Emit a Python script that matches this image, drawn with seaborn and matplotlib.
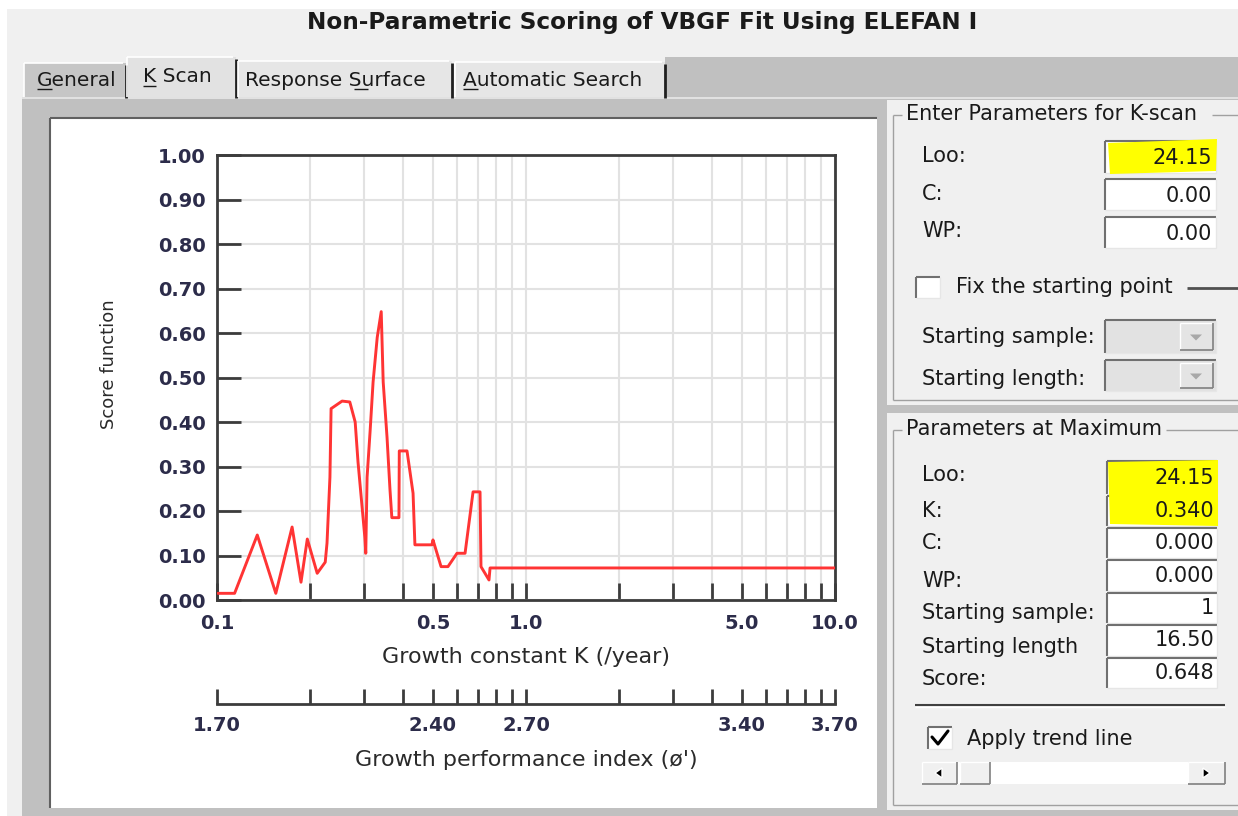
import matplotlib
matplotlib.use("Agg")
import matplotlib.pyplot as plt
from matplotlib.patches import Rectangle, Polygon
from matplotlib.ticker import NullLocator
import seaborn as sns
import pandas as pd

# K-scan curve (K in /year, score function)
k_values = [0.1007, 0.114, 0.135, 0.155, 0.175, 0.187, 0.196, 0.211, 0.224, 0.227,
            0.232, 0.234, 0.254, 0.269, 0.280, 0.286, 0.301, 0.303, 0.306, 0.313,
            0.320, 0.330, 0.340, 0.345, 0.355, 0.363, 0.368, 0.388, 0.389, 0.412,
            0.431, 0.437, 0.496, 0.500, 0.531, 0.559, 0.598, 0.635, 0.674, 0.710,
            0.715, 0.759, 0.765, 10.0]
scores = [0.015, 0.015, 0.146, 0.015, 0.164, 0.040, 0.137, 0.060, 0.085, 0.128,
          0.276, 0.430, 0.447, 0.445, 0.400, 0.310, 0.140, 0.105, 0.276, 0.380,
          0.490, 0.590, 0.648, 0.490, 0.366, 0.247, 0.185, 0.185, 0.335, 0.335,
          0.240, 0.124, 0.124, 0.135, 0.075, 0.075, 0.105, 0.105, 0.243, 0.243,
          0.075, 0.045, 0.072, 0.072]

k_ticks = [0.1, 0.2, 0.3, 0.4, 0.5, 0.6, 0.7, 0.8, 0.9, 1, 2, 3, 4, 5, 6, 7, 8, 9, 10]
k_labels = {0.1: "0.1", 0.5: "0.5", 1: "1.0", 5: "5.0", 10: "10.0"}
phi_labels = {0.1: "1.70", 0.5: "2.40", 1: "2.70", 5: "3.40", 10: "3.70"}
score_ticks = [0.0, 0.1, 0.2, 0.3, 0.4, 0.5, 0.6, 0.7, 0.8, 0.9, 1.0]

# dialog fields
scan_labels = ["Loo:", "C:", "WP:"]
scan_values = ["24.15", "0.00", "0.00"]
max_labels = ["Loo:", "K:", "C:", "WP:", "Starting sample:", "Starting length", "Score:"]
max_values = ["24.15", "0.340", "0.000", "0.000", "1", "16.50", "0.648"]
tabs = ["General", "K Scan", "Response Surface", "Automatic Search"]

W, H = 1238, 816
sns.set_style("white")
plt.rcParams["font.family"] = ["DejaVu Sans"]

fig = plt.figure(figsize=(W / 100, H / 100), dpi=100, facecolor="#f0f0f0")
bg = fig.add_axes([0, 0, 1, 1])
bg.set_xlim(0, W)
bg.set_ylim(H, 0)
bg.axis("off")

TXT = "#1a1a1a"


def box(x0, y0, x1, y1, fc, z=1):
    bg.add_patch(Rectangle((x0, y0), x1 - x0, y1 - y0, facecolor=fc,
                           edgecolor="none", zorder=z))


def hline(x0, x1, y, c, lw=1.5, z=2):
    bg.plot([x0, x1], [y, y], color=c, lw=lw, zorder=z, solid_capstyle="butt")


def vline(x, y0, y1, c, lw=1.5, z=2):
    bg.plot([x, x], [y0, y1], color=c, lw=lw, zorder=z, solid_capstyle="butt")


def sunken(x0, y0, x1, y1, fc="white", z=2):
    box(x0, y0, x1, y1, fc, z)
    hline(x0, x1, y0, "#707070", 1.5, z + 0.1)
    vline(x0, y0, y1, "#707070", 1.5, z + 0.1)
    hline(x0, x1, y1, "#e6e6e6", 1, z + 0.1)
    vline(x1, y0, y1, "#e6e6e6", 1, z + 0.1)


def raised(x0, y0, x1, y1, fc="#f0f0f0", z=3):
    box(x0, y0, x1, y1, fc, z)
    hline(x0, x1, y0, "white", 1, z + 0.1)
    vline(x0, y0, y1, "white", 1, z + 0.1)
    hline(x0, x1, y1, "#808080", 1.2, z + 0.1)
    vline(x1, y0, y1, "#808080", 1.2, z + 0.1)


def label(x, y, s, size=15, ha="left", weight="normal", c=TXT, z=5):
    bg.text(x, y, s, ha=ha, va="center", fontsize=size, color=c,
            fontweight=weight, zorder=z)


# window frame
box(0, 0, W, 9, "white")
box(0, 0, 7, H, "white")
label(642, 23, "Non-Parametric Scoring of VBGF Fit Using ELEFAN I", size=16.7,
      ha="center", weight="bold")

# tab strip and page
box(665, 57, W, 97, "#c0c0c0")
box(22, 97, W, H, "#c0c0c0")
hline(22, W, 98, "#e8e8e8", 1.2)
tab_geo = [(24, 126, 63, "#c6c6c6"), (127, 236, 57, "#e2e2e2"),
           (238, 452, 61, "#e6e6e6"), (455, 665, 62, "#e6e6e6")]
tab_text = [(37, 80), (143, 77), (245, 80), (463, 80)]
tab_under = [(37, 52), (143, 156), (354, 368), (463, 478)]
for name, (x0, x1, y0, fc), (tx, ty), (u0, u1) in zip(tabs, tab_geo, tab_text, tab_under):
    box(x0, y0, x1, 97, fc, 1.5)
    hline(x0, x1 - 3, y0, "white", 1.2, 2)
    vline(x0, y0, 97, "white", 1.2, 2)
    vline(x1, y0 + 2, 98, "#202020", 2, 2)
    label(tx, ty, name, size=14.5)
    hline(u0, u1, ty + 9, TXT, 1, 6)

# white plot panel
box(50, 118, 877, 808, "white")
hline(50, 877, 118, "#606060", 1.5)
vline(50, 118, 808, "#606060", 1.5)

# right-hand group boxes
box(887, 100, W, 405, "#f0f0f0")
box(887, 413, W, 810, "#f0f0f0")


def group(y0, y1, title, tx1):
    hline(893, 902, y0, "#a0a0a0", 1)
    hline(tx1, W, y0, "#a0a0a0", 1)
    vline(893, y0, y1, "#a0a0a0", 1)
    hline(893, W, y1, "#a0a0a0", 1)
    label(906, y0 - 1, title)


group(115, 400, "Enter Parameters for K-scan", 1212)
group(430, 805, "Parameters at Maximum", 1166)

# K-scan inputs
scan_rows = [(156, 141, 173), (194, 179, 210), (231, 217, 248)]
for name, val, (ly, fy0, fy1) in zip(scan_labels, scan_values, scan_rows):
    label(922, ly, name)
    sunken(1105, fy0, 1216, fy1)
    label(1212, (fy0 + fy1) / 2 + 1, val, ha="right")
bg.add_patch(Polygon([(1108, 143), (1217, 139), (1216, 171), (1110, 174)],
                     facecolor="#ffff00", edgecolor="none", zorder=3))

sunken(916, 277, 940, 298)
label(956, 287, "Fix the starting point")
hline(1187, W, 288, "#505050", 2)

for name, (ly, fy0, fy1) in zip(["Starting sample:", "Starting length:"],
                                [(337, 320, 353), (379, 360, 391)]):
    label(922, ly, name)
    sunken(1105, fy0, 1216, fy1, "#e2e2e2")
    raised(1180, fy0 + 3, 1213, fy1 - 3, "#e4e4e4")
    bg.add_patch(Polygon([(1190, (fy0 + fy1) / 2 - 2), (1202, (fy0 + fy1) / 2 - 2),
                          (1196, (fy0 + fy1) / 2 + 4)],
                         facecolor="#a8a8a8", edgecolor="none", zorder=4))

# parameters at maximum
max_rows = [(475, 461, 494), (511, 496, 526), (543, 528, 558), (581, 560, 591),
            (613, 593, 623), (647, 625, 656), (679, 658, 688)]
for name, val, (ly, fy0, fy1) in zip(max_labels, max_values, max_rows):
    label(922, ly, name)
    sunken(1107, fy0, 1217, fy1)
    label(1214, (fy0 + fy1) / 2, val, ha="right")
bg.add_patch(Polygon([(1108, 462), (1218, 460), (1218, 526), (1110, 524)],
                     facecolor="#ffff00", edgecolor="none", zorder=3))

hline(915, 1225, 705, "#404040", 1.5)
hline(915, 1225, 707, "white", 1)
sunken(928, 727, 952, 749)
bg.plot([932, 938, 948], [737, 744, 731], color="black", lw=2.2, zorder=5)
label(967, 739, "Apply trend line")

# scrollbar
box(922, 762, 1225, 784, "white", 2)
raised(922, 762, 957, 784)
raised(960, 762, 990, 784)
raised(1188, 762, 1225, 784)
bg.add_patch(Polygon([(935, 773), (942, 768), (942, 778)], facecolor="black", zorder=5))
bg.add_patch(Polygon([(1210, 773), (1203, 768), (1203, 778)], facecolor="black", zorder=5))

# ---- score plot ----
ax = fig.add_axes([217 / W, 1 - 600 / H, 618 / W, 445 / H])
df = pd.DataFrame({"K": k_values, "score": scores})
sns.lineplot(data=df, x="K", y="score", sort=False, estimator=None,
             color="#ff3434", lw=2.1, ax=ax, zorder=3)
ax.set_xscale("log")
ax.set_xlim(0.1, 10)
ax.set_ylim(0, 1)
ax.set_xticks(k_ticks)
ax.set_xticklabels([k_labels.get(k, "") for k in k_ticks])
ax.xaxis.set_minor_locator(NullLocator())
ax.set_yticks(score_ticks)
ax.set_yticklabels(["%.2f" % s for s in score_ticks])
ax.grid(True, color="#e2e2e2", lw=1.5, zorder=0)
for sp in ax.spines.values():
    sp.set_color("#3c3c3c")
    sp.set_linewidth(2)
    sp.set_visible(True)
ax.tick_params(axis="x", bottom=True, direction="in", length=12, width=2,
               color="#3c3c3c", pad=10, labelsize=14, labelcolor="#2c2c4a")
ax.tick_params(axis="y", left=True, direction="in", length=17, width=2,
               color="#3c3c3c", pad=8, labelsize=14, labelcolor="#2c2c4a")
for t in ax.get_xticklabels() + ax.get_yticklabels():
    t.set_fontweight("bold")
ax.set_xlabel("Growth constant K (/year)", fontsize=16, color="#2a2a2a")
ax.xaxis.set_label_coords(0.5, -0.105)
ax.set_ylabel("Score function", fontsize=13, color="#2a2a2a")
ax.yaxis.set_label_coords(-0.16, 0.53)

# growth performance index axis
ax2 = fig.add_axes([217 / W, 1 - 704 / H, 618 / W, 40 / H])
ax2.patch.set_visible(False)
ax2.set_xscale("log")
ax2.set_xlim(0.1, 10)
ax2.set_xticks(k_ticks)
ax2.set_xticklabels([phi_labels.get(k, "") for k in k_ticks])
ax2.xaxis.set_minor_locator(NullLocator())
ax2.set_yticks([])
for side in ["top", "left", "right"]:
    ax2.spines[side].set_visible(False)
ax2.spines["bottom"].set_color("#3c3c3c")
ax2.spines["bottom"].set_linewidth(2)
ax2.tick_params(axis="x", bottom=True, direction="in", length=11, width=2,
                color="#3c3c3c", pad=8.5, labelsize=14, labelcolor="#2c2c4a")
for t in ax2.get_xticklabels():
    t.set_fontweight("bold")
ax2.set_xlabel("Growth performance index (\u00f8')", fontsize=16, color="#2a2a2a")
ax2.xaxis.set_label_coords(0.5, -1.15)

fig.savefig("out.png", dpi=100, facecolor=fig.get_facecolor())
